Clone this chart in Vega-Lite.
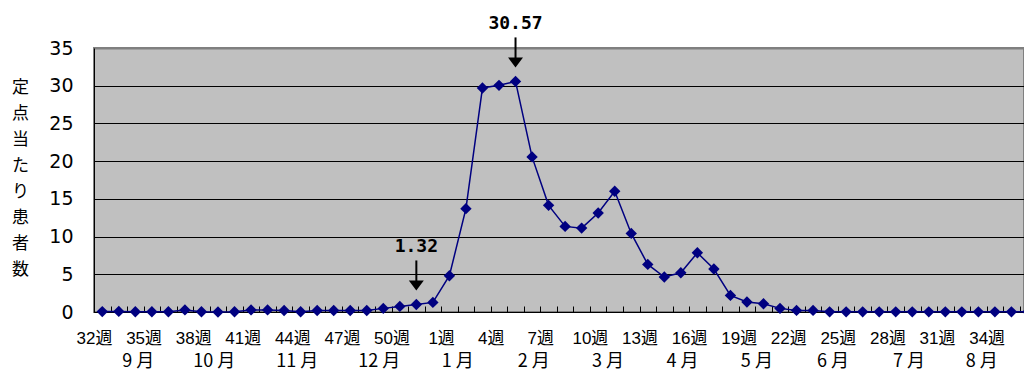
{
  "$schema": "https://vega.github.io/schema/vega-lite/v6.json",
  "width": 930,
  "height": 264,
  "autosize": {"type": "none"},
  "padding": {"left": 94, "top": 48, "right": 0, "bottom": 62},
  "background": "white",
  "config": {
    "view": {"fill": "#C0C0C0", "stroke": "#808080", "strokeWidth": 2},
    "axis": {"labelOverlap": false, "labelColor": "black", "domainColor": "black", "tickColor": "black"}
  },
  "datasets": {
    "weekly": [
      {"i": 0, "week": "32週", "v": 0.05}, {"i": 1, "week": "33週", "v": 0.08}, {"i": 2, "week": "34週", "v": 0.04},
      {"i": 3, "week": "35週", "v": 0.04}, {"i": 4, "week": "36週", "v": 0.04}, {"i": 5, "week": "37週", "v": 0.28},
      {"i": 6, "week": "38週", "v": 0.04}, {"i": 7, "week": "39週", "v": 0.0}, {"i": 8, "week": "40週", "v": 0.04},
      {"i": 9, "week": "41週", "v": 0.28}, {"i": 10, "week": "42週", "v": 0.28}, {"i": 11, "week": "43週", "v": 0.2},
      {"i": 12, "week": "44週", "v": 0.04}, {"i": 13, "week": "45週", "v": 0.2}, {"i": 14, "week": "46週", "v": 0.2},
      {"i": 15, "week": "47週", "v": 0.2}, {"i": 16, "week": "48週", "v": 0.2}, {"i": 17, "week": "49週", "v": 0.48},
      {"i": 18, "week": "50週", "v": 0.74}, {"i": 19, "week": "51週", "v": 1.0, "note": "1.32"}, {"i": 20, "week": "52週", "v": 1.27},
      {"i": 21, "week": "1週", "v": 4.81}, {"i": 22, "week": "2週", "v": 13.7}, {"i": 23, "week": "3週", "v": 29.7},
      {"i": 24, "week": "4週", "v": 30.05}, {"i": 25, "week": "5週", "v": 30.57, "note": "30.57"}, {"i": 26, "week": "6週", "v": 20.56},
      {"i": 27, "week": "7週", "v": 14.14}, {"i": 28, "week": "8週", "v": 11.35}, {"i": 29, "week": "9週", "v": 11.12},
      {"i": 30, "week": "10週", "v": 13.13}, {"i": 31, "week": "11週", "v": 16.0}, {"i": 32, "week": "12週", "v": 10.42},
      {"i": 33, "week": "13週", "v": 6.31}, {"i": 34, "week": "14週", "v": 4.64}, {"i": 35, "week": "15週", "v": 5.2},
      {"i": 36, "week": "16週", "v": 7.85}, {"i": 37, "week": "17週", "v": 5.7}, {"i": 38, "week": "18週", "v": 2.2},
      {"i": 39, "week": "19週", "v": 1.32}, {"i": 40, "week": "20週", "v": 1.1}, {"i": 41, "week": "21週", "v": 0.48},
      {"i": 42, "week": "22週", "v": 0.21}, {"i": 43, "week": "23週", "v": 0.21}, {"i": 44, "week": "24週", "v": 0.02},
      {"i": 45, "week": "25週", "v": 0.02}, {"i": 46, "week": "26週", "v": 0.02}, {"i": 47, "week": "27週", "v": 0.02},
      {"i": 48, "week": "28週", "v": 0.02}, {"i": 49, "week": "29週", "v": 0.02}, {"i": 50, "week": "30週", "v": 0.02},
      {"i": 51, "week": "31週", "v": 0.02}, {"i": 52, "week": "32週", "v": 0.02}, {"i": 53, "week": "33週", "v": 0.02},
      {"i": 54, "week": "34週", "v": 0.02}, {"i": 55, "week": "35週", "v": 0.02}, {"i": 56, "week": "36週", "v": 0.02}
    ],
    "months": [
      {"m": "9 月", "pos": 2.18, "base": 0}, {"m": "10 月", "pos": 6.78, "base": 0}, {"m": "11 月", "pos": 11.8, "base": 0}, {"m": "12 月", "pos": 16.76, "base": 0},
      {"m": "1 月", "pos": 21.5, "base": 0}, {"m": "2 月", "pos": 26.1, "base": 0}, {"m": "3 月", "pos": 30.6, "base": 0}, {"m": "4 月", "pos": 35.1, "base": 0},
      {"m": "5 月", "pos": 39.6, "base": 0}, {"m": "6 月", "pos": 44.2, "base": 0}, {"m": "7 月", "pos": 48.8, "base": 0}, {"m": "8 月", "pos": 53.2, "base": 0}
    ]
  },
  "data": {"name": "weekly"},
  "encoding": {
    "x": {
      "field": "i", "type": "quantitative",
      "scale": {"domain": [-0.5, 55.76], "nice": false, "zero": false},
      "axis": {
        "title": null,
        "values": [-0.5,0.5,1.5,2.5,3.5,4.5,5.5,6.5,7.5,8.5,9.5,10.5,11.5,12.5,13.5,14.5,15.5,16.5,17.5,18.5,19.5,20.5,21.5,22.5,23.5,24.5,25.5,26.5,27.5,28.5,29.5,30.5,31.5,32.5,33.5,34.5,35.5,36.5,37.5,38.5,39.5,40.5,41.5,42.5,43.5,44.5,45.5,46.5,47.5,48.5,49.5,50.5,51.5,52.5,53.5,54.5,55.5],
        "labelExpr": "(datum.value + 0.5) % 3 == 0 ? (((datum.value + 0.5) < 21 ? (datum.value + 32.5) : (datum.value - 19.5)) + '週') : ''",
        "labelDx": 8.27,
        "labelFlush": false,
        "labelOverlap": false,
        "labelBound": false,
        "labelFont": "Liberation Sans, Noto Sans CJK JP",
        "labelFontSize": 17,
        "labelBaseline": "middle",
        "labelPadding": 32,
        "ticks": true,
        "tickSize": -6,
        "tickWidth": 1,
        "domain": true,
        "domainWidth": 1,
        "grid": false
      }
    },
    "y": {
      "field": "v", "type": "quantitative",
      "scale": {"domain": [0, 35], "nice": false},
      "axis": {
        "values": [0, 5, 10, 15, 20, 25, 30, 35],
        "labelOverlap": false,
        "title": ["定", "点", "当", "た", "り", "患", "者", "数"],
        "titleAngle": 0,
        "titleX": -74,
        "titleY": 39,
        "titleAlign": "center",
        "titleBaseline": "middle",
        "titleLineHeight": 26,
        "titleFont": "Noto Sans CJK JP",
        "titleFontSize": 17,
        "titleFontWeight": "normal",
        "titleColor": "black",
        "labelFont": "DejaVu Sans",
        "labelFontSize": 19,
        "labelPadding": 21,
        "ticks": false,
        "domain": true,
        "domainWidth": 1,
        "grid": true,
        "gridColor": {"condition": {"test": "datum.value == 35", "value": "#808080"}, "value": "black"},
        "gridWidth": {"condition": {"test": "datum.value == 35", "value": 2}, "value": 1},
        "gridOpacity": 1
      }
    }
  },
  "layer": [
    {"mark": {"type": "line", "color": "#000080", "strokeWidth": 1.5}},
    {"mark": {"type": "point", "shape": "diamond", "filled": true, "color": "#000080", "size": 130, "opacity": 1}},
    {
      "transform": [{"filter": "datum.note"}],
      "mark": {"type": "rule", "color": "black", "strokeWidth": 2, "yOffset": -44, "y2Offset": -22},
      "encoding": {"y2": {"field": "v"}}
    },
    {
      "transform": [{"filter": "datum.note"}],
      "mark": {"type": "point", "shape": "M-1,-0.667L1,-0.667L0,0.667Z", "filled": true, "color": "black", "size": 225, "opacity": 1, "yOffset": -19}
    },
    {
      "transform": [{"filter": "datum.note"}],
      "mark": {"type": "text", "font": "DejaVu Sans Mono", "fontWeight": "bold", "fontSize": 18, "color": "black", "baseline": "middle", "align": "center", "dy": -57},
      "encoding": {"text": {"field": "note"}}
    },
    {
      "data": {"name": "months"},
      "mark": {"type": "text", "font": "Noto Sans CJK JP", "fontSize": 18, "color": "black", "baseline": "middle", "align": "center", "dy": 50, "clip": false},
      "encoding": {
        "x": {"field": "pos", "type": "quantitative"},
        "y": {"field": "base", "type": "quantitative"},
        "text": {"field": "m", "type": "nominal"}
      }
    }
  ]
}
